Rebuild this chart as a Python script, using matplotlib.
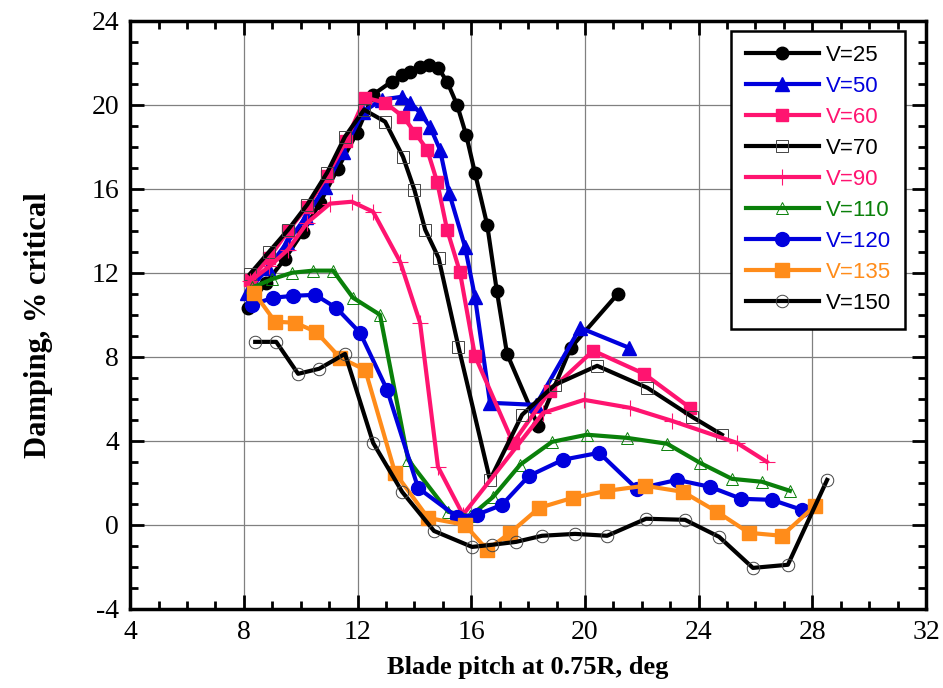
import numpy as np
import matplotlib.pyplot as plt
from matplotlib.ticker import MultipleLocator

plt.rcParams['axes.unicode_minus'] = False

# blade pitch (deg) / damping (% critical) for each airspeed
x25 = [8.15, 8.78, 9.45, 10.08, 10.68, 11.3, 11.98, 12.55, 13.2, 13.57, 13.85, 14.2,
       14.52, 14.83, 15.15, 15.5, 15.82, 16.13, 16.56, 16.9, 17.26, 18.35, 19.5, 21.16]
y25 = [10.33, 11.52, 12.67, 13.95, 15.33, 16.95, 18.67, 20.48, 21.1, 21.43, 21.57, 21.8,
       21.9, 21.76, 21.1, 20.0, 18.57, 16.76, 14.29, 11.14, 8.14, 4.71, 8.43, 11.0]

x50 = [8.12, 8.85, 9.52, 10.19, 10.86, 11.49, 12.2, 12.86, 13.57, 13.85, 14.2, 14.55,
       14.9, 15.22, 15.78, 16.13, 16.66, 18.28, 19.83, 21.55]
y50 = [11.05, 12.24, 13.43, 14.67, 16.1, 17.76, 19.67, 20.24, 20.38, 20.1, 19.62, 18.95,
       17.86, 15.81, 13.24, 10.86, 5.81, 5.71, 9.38, 8.43]

x60 = [8.22, 8.89, 9.56, 10.23, 10.93, 11.6, 12.27, 12.97, 13.6, 14.02, 14.45, 14.8,
       15.15, 15.6, 16.13, 17.47, 18.77, 20.29, 22.08, 23.7]
y60 = [11.67, 12.71, 14.0, 15.14, 16.62, 18.29, 20.33, 20.1, 19.43, 18.67, 17.86, 16.33,
       14.05, 12.05, 8.05, 3.9, 6.38, 8.29, 7.19, 5.57]

x70 = [8.22, 8.89, 9.56, 10.23, 10.93, 11.56, 12.23, 12.97, 13.6, 14.0, 14.38, 14.85,
       15.55, 16.66, 17.79, 18.95, 20.43, 22.2, 23.77, 24.82]
y70 = [11.95, 13.0, 14.05, 15.24, 16.76, 18.48, 19.76, 19.19, 17.52, 15.95, 14.05, 12.71,
       8.48, 2.14, 5.24, 6.67, 7.57, 6.52, 5.14, 4.29]

x90 = [8.22, 8.9, 9.55, 10.23, 11.03, 11.8, 12.55, 13.5, 14.2, 14.83, 15.71,
       18.53, 19.97, 21.59, 23.06, 25.35, 26.4]
y90 = [11.6, 12.3, 13.1, 14.38, 15.29, 15.38, 14.9, 12.52, 9.62, 2.76, 0.48,
       5.33, 5.95, 5.57, 4.95, 3.9, 3.0]

x110 = [8.3, 9.0, 9.7, 10.44, 11.14, 11.84, 12.79, 13.78, 15.19, 15.96, 16.77, 17.72,
        18.84, 20.07, 21.48, 22.89, 24.05, 25.17, 26.23, 27.21]
y110 = [11.3, 11.7, 12.0, 12.1, 12.1, 10.81, 10.0, 3.1, 0.62, 0.4, 1.33, 2.86,
        3.95, 4.29, 4.14, 3.86, 2.95, 2.19, 2.05, 1.62]

x120 = [8.3, 9.03, 9.73, 10.51, 11.25, 12.09, 13.04, 14.13, 15.5, 16.2, 17.08, 18.03,
        19.23, 20.5, 21.83, 23.24, 24.4, 25.5, 26.58, 27.64]
y120 = [10.48, 10.81, 10.9, 10.95, 10.33, 9.14, 6.43, 1.76, 0.38, 0.48, 0.95, 2.33,
        3.1, 3.43, 1.71, 2.14, 1.81, 1.24, 1.19, 0.71]

x135 = [8.36, 9.1, 9.8, 10.54, 11.39, 12.27, 13.32, 14.48, 15.78, 16.56, 17.37, 18.39,
        19.58, 20.78, 22.11, 23.45, 24.65, 25.77, 26.93, 28.09]
y135 = [11.05, 9.67, 9.62, 9.19, 7.95, 7.38, 2.48, 0.33, 0.0, -1.19, -0.38, 0.81,
        1.29, 1.62, 1.86, 1.57, 0.62, -0.38, -0.52, 0.9]

x150 = [8.4, 9.14, 9.91, 10.65, 11.56, 12.55, 13.57, 14.69, 16.03, 16.73, 17.58, 18.49,
        19.65, 20.78, 22.15, 23.52, 24.72, 25.91, 27.14, 28.52]
y150 = [8.71, 8.71, 7.19, 7.43, 8.14, 3.9, 1.57, -0.29, -1.05, -0.95, -0.81, -0.52,
        -0.43, -0.52, 0.29, 0.24, -0.57, -2.05, -1.9, 2.14]

blue = '#0000DD'
pink = '#FF1470'
green = '#0A800A'
orange = '#FF8C1A'

series = [
    ('V=25', x25, y25, 'k', dict(marker='o', ms=9, mfc='k', mec='k')),
    ('V=50', x50, y50, blue, dict(marker='^', ms=10, mfc=blue, mec=blue)),
    ('V=60', x60, y60, pink, dict(marker='s', ms=9, mfc=pink, mec=pink)),
    ('V=70', x70, y70, 'k', dict(marker='s', ms=9, mfc='none', mec='#444444', mew=0.7)),
    ('V=90', x90, y90, pink, dict(marker='+', ms=11, mec=pink, mew=0.8)),
    ('V=110', x110, y110, green, dict(marker='^', ms=9, mfc='none', mec=green, mew=0.7)),
    ('V=120', x120, y120, blue, dict(marker='o', ms=10, mfc=blue, mec=blue)),
    ('V=135', x135, y135, orange, dict(marker='s', ms=10, mfc=orange, mec=orange)),
    ('V=150', x150, y150, 'k', dict(marker='o', ms=9, mfc='none', mec='#444444', mew=0.7)),
]

fig = plt.figure(figsize=(9.43, 6.88), dpi=100)
ax = fig.add_axes([0.138, 0.115, 0.844, 0.855])

for label, xs, ys, c, mk in series:
    ax.plot(xs, ys, '-', color=c, lw=3.0, label=label, **mk)

ax.set_xlim(4, 32)
ax.set_ylim(-4, 24)
ax.xaxis.set_major_locator(MultipleLocator(4))
ax.xaxis.set_minor_locator(MultipleLocator(1))
ax.yaxis.set_major_locator(MultipleLocator(4))
ax.yaxis.set_minor_locator(MultipleLocator(1))
ax.grid(True, which='major', color='#808080', lw=0.9)
ax.set_axisbelow(True)
ax.tick_params(which='both', direction='in', top=True, right=True, width=2)
ax.tick_params(which='major', length=10, pad=8)
ax.tick_params(which='minor', length=6)
for s in ax.spines.values():
    s.set_linewidth(2.5)

for t in ax.get_xticklabels() + ax.get_yticklabels():
    t.set_fontfamily('Liberation Serif')
    t.set_fontsize(20)

ax.set_xlabel('Blade pitch at 0.75R, deg', fontfamily='Liberation Serif',
              fontweight='bold', fontsize=19, labelpad=8)
ax.set_ylabel('Damping, % critical', fontfamily='Liberation Serif',
              fontweight='bold', fontsize=22)
ax.yaxis.set_label_coords(-0.097, 0.483)

leg = ax.legend(loc='upper right', prop={'family': 'Liberation Sans', 'size': 16},
                fancybox=False, framealpha=1, edgecolor='k', handlelength=3.3,
                labelspacing=0.45, handletextpad=0.3, borderpad=0.65,
                borderaxespad=0, bbox_to_anchor=(0.974, 0.983))
leg.get_frame().set_linewidth(1.8)
for txt, (_, _, _, c, _) in zip(leg.get_texts(), series):
    txt.set_color(c)

fig.savefig('out.png', dpi=100)
